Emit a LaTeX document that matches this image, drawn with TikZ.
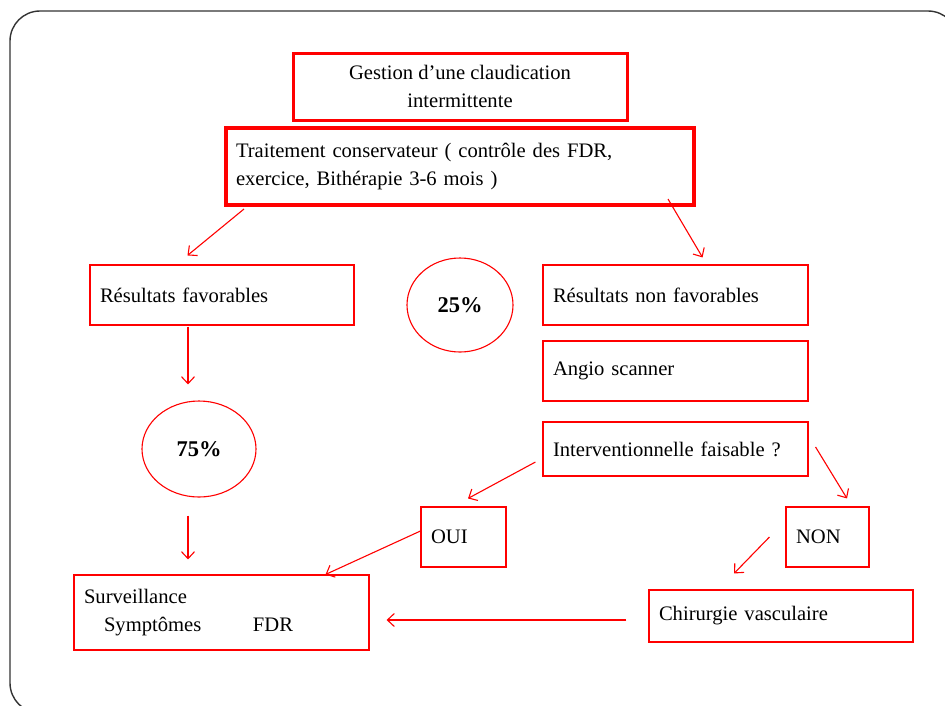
\documentclass[tikz,border=0pt]{standalone}
\usepackage{fontspec}
\setmainfont{Liberation Serif}
\usetikzlibrary{arrows.meta,positioning,shapes.geometric}

\begin{document}
\begin{tikzpicture}[x=1pt,y=-1pt,font=\fontsize{20.6}{28.5}\selectfont]
\tikzset{
    %Define standard arrow tip
    >={Straight Barb[length=7pt,width=13pt]},
    %Define style for boxes
    boite/.style={
           rectangle,
           draw=red, line width=1.1pt,
           inner sep=10pt,
           align=left,
           },
    % thick boxes at the top
    boite2/.style={
           boite,
           line width=3pt,
           },
    % percentage circles
    rond/.style={
           ellipse,
           draw=red, line width=1.1pt,
           inner sep=0pt,
           font=\fontsize{22.5}{26}\selectfont\bfseries,
           },
    % Define arrow style
    fleche/.style={
           ->,
           draw=red,
           line width=1.1pt,},
}
	\useasboundingbox (0,0) rectangle (945,705);
	\begin{scope}
	\clip (0,0) rectangle (945,705);
	\draw[line width=1.4pt, draw=black!80, rounded corners=30pt] (10,11) rectangle (958,713);
	\end{scope}
 %nodes

	\node[boite2, align=center, minimum width=334pt, minimum height=67pt] (gestion) at (460,86.5) {Gestion d'une claudication\\intermittente};

	\node[boite2, line width=4pt, text width=448pt, minimum height=77pt] (trait) at (460,166.5) {Traitement conservateur ( contrôle des FDR,\\exercice, Bithérapie 3-6 mois )};

	\node[boite, text width=244pt, minimum height=60pt] (fav) at (222,295) {Résultats favorables};

	\node[rond, minimum width=106pt, minimum height=94pt] (pct25) at (460,305) {25\%};

	\node[boite, text width=245pt, minimum height=60pt] (nonfav) at (675.5,295) {Résultats non favorables};

	\node[boite, text width=245pt, minimum height=60pt] (angio) at (675.5,371) {Angio scanner};

	\node[boite, text width=245pt, minimum height=54pt] (interv) at (675.5,449) {Interventionnelle faisable ?};

	\node[rond, minimum width=114pt, minimum height=96pt] (pct75) at (199,449) {75\%};

	\node[boite, text width=65pt, minimum height=60pt] (oui) at (463.5,537) {OUI};

	\node[boite, text width=63pt, minimum height=60pt] (non) at (827.5,537) {NON};

	\node[boite, text width=275pt, minimum height=75pt] (surv) at (221.5,612.5) {Surveillance\\\hspace*{20pt}\makebox[149pt][l]{Symptômes}FDR};

	\node[boite, text width=244pt, minimum height=52pt] (chir) at (781,616) {Chirurgie vasculaire};

	\draw[fleche] ([xshift=20pt,yshift=-2pt]trait.south west) -- ([xshift=98pt,yshift=9pt]fav.north west);
	\draw[fleche] ([xshift=-28pt,yshift=8pt]trait.south east) -- ([xshift=-106pt,yshift=7pt]nonfav.north east);
	\draw[fleche] ([xshift=-34pt,yshift=-1pt]fav.south) -- ([xshift=-11pt,yshift=16pt]pct75.north);
	\draw[fleche] ([xshift=-11pt,yshift=-18pt]pct75.south) -- ([xshift=-33.5pt,yshift=15pt]surv.north);
	\draw[fleche] ([xshift=-7pt,yshift=-13pt]interv.west) -- ([xshift=4.5pt,yshift=8pt]oui.north);
	\draw[fleche] ([xshift=7pt,yshift=2pt]interv.east) -- ([xshift=19.5pt,yshift=8pt]non.north);
	\draw[fleche] ([yshift=6pt]oui.west) -- ([xshift=-44pt]surv.north east);
	\draw[fleche] ([xshift=-16pt]non.west) -- ([xshift=-47pt,yshift=16pt]chir.north);
	\draw[fleche] ([xshift=-22pt,yshift=-4pt]chir.west) -- ([xshift=17pt,yshift=-7.5pt]surv.east);

\end{tikzpicture}
\end{document}
